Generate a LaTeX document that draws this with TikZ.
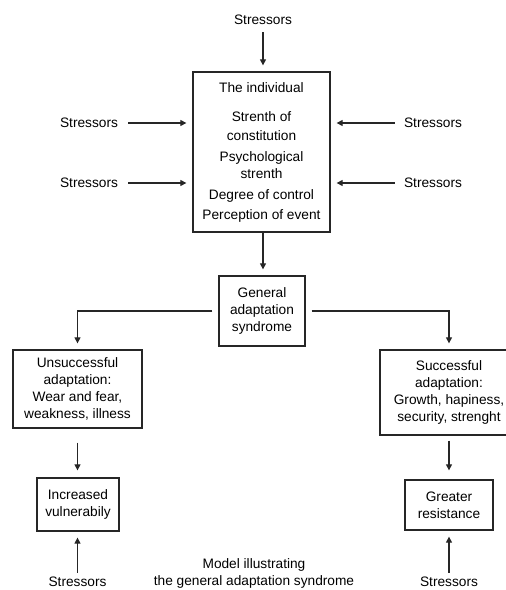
\documentclass[tikz,border=0pt]{standalone}
\usepackage{fontspec}
\setmainfont{Liberation Sans}
\usetikzlibrary{arrows.meta}
\begin{document}
\begin{tikzpicture}[x=1pt,y=-1pt,
  every node/.style={font=\fontsize{13.7}{17}\selectfont, inner sep=0pt, align=center},
  box/.style={draw, line width=1.3pt, draw=black!85},
  arr/.style={line width=1.2pt, draw=black!85, -{Triangle[length=6pt,width=6pt]}}]
\useasboundingbox (0,0) rectangle (506,590);
\clip (0,0) rectangle (506,590);
% top stressor and individual box
\node (st) at (263,20) {Stressors};
\node[box, minimum width=137, minimum height=160] (ind) at (261.5,152)
  {The individual\\[12pt] Strenth of\\[2pt] constitution\\[4pt] Psychological\\ strenth\\[4pt] Degree of control\\[3pt] Perception of event};
\node (sl1) at (89,123) {Stressors};
\node (sl2) at (89,183) {Stressors};
\node (sr1) at (433,123) {Stressors};
\node (sr2) at (433,183) {Stressors};
\draw[arr, shorten <=7pt, shorten >=6pt] (st.south) -- (st.south |- ind.north);
\draw[arr, shorten >=6pt] ([xshift=10pt]sl1.east) -- (ind.west |- sl1);
\draw[arr, shorten >=6pt] ([xshift=10pt]sl2.east) -- (ind.west |- sl2);
\draw[arr, shorten >=6pt] ([xshift=-9pt]sr1.west) -- (ind.east |- sr1);
\draw[arr, shorten >=6pt] ([xshift=-9pt]sr2.west) -- (ind.east |- sr2);
% GAS
\node[box, minimum width=86, minimum height=70] (gas) at (262,311) {General\\adaptation\\syndrome};
\draw[arr, shorten >=6pt] (st.south |- ind.south) -- (st.south |- gas.north);
% outcomes
\node[box, minimum width=129, minimum height=78] (uns) at (77.5,389)
  {Unsuccessful\\adaptation:\\Wear and fear,\\weakness, illness};
\node[box, minimum width=138, minimum height=85] (suc) at (449,392.5)
  {Successful\\adaptation:\\Growth, hapiness,\\security, strenght};
\coordinate (ul) at ([xshift=-6pt]gas.west);
\coordinate (ur) at ([xshift=6pt]gas.east);
\draw[arr, shorten >=6pt] (ul) -| (uns.north);
\draw[arr, shorten >=6pt] (ur) -| (suc.north);
% results
\node[box, minimum width=82, minimum height=53] (inc) at (78,504.5) {Increased\\vulnerabily};
\node[box, minimum width=88, minimum height=50] (gre) at (449,505) {Greater\\resistance};
\draw[arr, shorten <=14pt, shorten >=7pt] (uns.south) -- (uns.south |- inc.north);
\draw[arr, shorten <=5pt, shorten >=9pt] (suc.south) -- (suc.south |- gre.north);
% bottom stressors
\node (sb1) at (77.5,582) {Stressors};
\node (sb2) at (449,582) {Stressors};
\draw[arr, shorten <=4pt, shorten >=6pt] (sb1.north) -- (sb1.north |- inc.south);
\draw[arr, shorten <=4pt, shorten >=6pt] (sb2.north) -- (sb2.north |- gre.south);
% caption
\node (cap) at (254,573) {Model illustrating\\the general adaptation syndrome};
\end{tikzpicture}
\end{document}
